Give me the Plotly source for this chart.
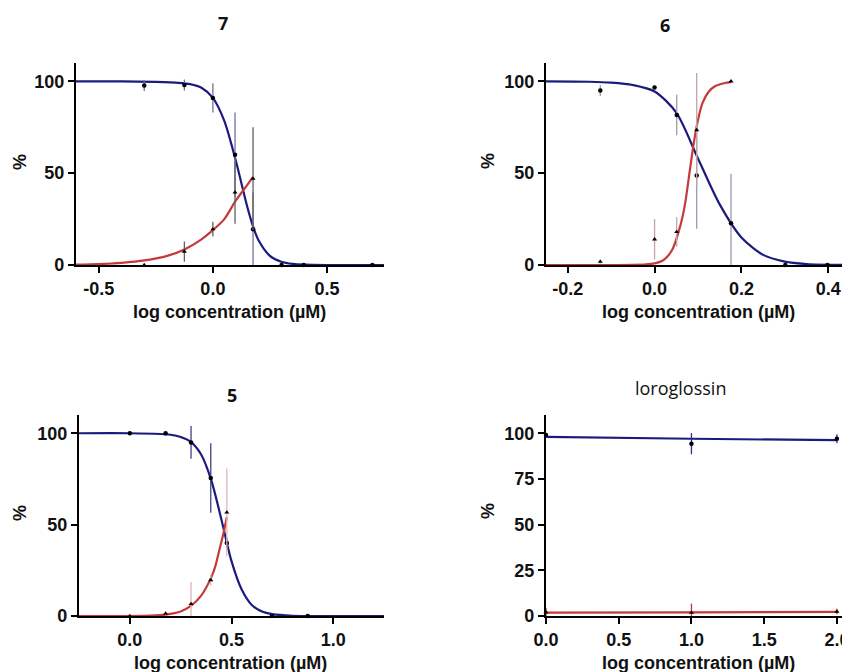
import plotly.graph_objects as go

# ---------------- data ----------------
# Compound 7
c7_x = [-0.301, -0.125, 0.0, 0.097, 0.176, 0.301, 0.398, 0.699]
c7_blue = [97.8, 98.0, 91.0, 60.0, 19.5, 0.0, 0.0, 0.0]
c7_blue_err = [3, 3, 8, 23, 20, 0, 0, 0]
c7_red_x = [-0.301, -0.125, 0.0, 0.097, 0.176]
c7_red = [0.0, 7.3, 19.5, 39.5, 47.0]
c7_red_err = [0, 5.5, 4, 17, 28]
c7_blue_curve_x = [-0.6, -0.4, -0.25, -0.15, -0.1, -0.05, 0.0, 0.05, 0.1, 0.15, 0.176, 0.2, 0.25, 0.3, 0.35, 0.4, 0.5, 0.75]
c7_blue_curve_y = [100, 100, 99.7, 99.2, 98.5, 96.5, 91, 78.5, 57, 32, 21, 13.5, 5, 1.8, 0.6, 0.2, 0, 0]
c7_red_curve_x = [-0.6, -0.5, -0.4, -0.3, -0.2, -0.125, -0.05, 0.0, 0.05, 0.1, 0.15, 0.176]
c7_red_curve_y = [0.2, 0.5, 1.2, 2.5, 5.0, 8.5, 14, 19, 25, 35, 43.5, 48]

# Compound 6
c6_x = [-0.125, 0.0, 0.051, 0.097, 0.176, 0.301, 0.398]
c6_blue = [95.0, 96.7, 81.7, 48.7, 22.7, 0.0, 0.0]
c6_blue_err = [3, 1, 11, 29, 27, 0, 0]
c6_red_x = [-0.125, 0.0, 0.051, 0.097, 0.176]
c6_red = [1.8, 14.0, 18.0, 73.5, 100.0]
c6_red_err = [1, 11, 8, 31, 0.5]
c6_blue_curve_x = [-0.25, -0.15, -0.1, -0.05, 0.0, 0.05, 0.1, 0.15, 0.2, 0.25, 0.3, 0.35, 0.45]
c6_blue_curve_y = [100, 99.8, 99.3, 98, 94.5, 83, 58, 33, 15, 5.5, 1.8, 0.5, 0]
c6_red_curve_x = [-0.25, -0.1, -0.05, -0.02, 0.0, 0.02, 0.04, 0.06, 0.07, 0.08, 0.09, 0.1, 0.11, 0.125, 0.14, 0.16, 0.176]
c6_red_curve_y = [0, 0, 0.05, 0.3, 0.9, 2.6, 8, 22, 33, 49.5, 66, 79, 88, 94.5, 97.5, 99, 99.6]

# Compound 5
c5_x = [0.0, 0.176, 0.301, 0.398, 0.477, 0.699, 0.875]
c5_blue = [100.0, 100.0, 95.0, 75.5, 40.0, 0.0, 0.0]
c5_blue_err = [0.5, 0.5, 9, 19, 3, 0, 0]
c5_red_x = [0.0, 0.176, 0.301, 0.398, 0.477]
c5_red = [0.0, 1.3, 6.6, 19.7, 56.7]
c5_red_err = [0, 1, 12, 3, 24]
c5_blue_curve_x = [-0.25, 0.0, 0.15, 0.2, 0.25, 0.3, 0.35, 0.4, 0.45, 0.5, 0.55, 0.6, 0.65, 0.7, 0.8, 0.95, 1.25]
c5_blue_curve_y = [100, 100, 99.6, 99.2, 98, 95.3, 88.5, 74.5, 53, 30, 14.5, 6, 2.4, 1, 0.15, 0, 0]
c5_red_curve_x = [-0.25, 0.0, 0.1, 0.176, 0.25, 0.3, 0.35, 0.4, 0.42, 0.44, 0.46, 0.477]
c5_red_curve_y = [0, 0, 0.2, 0.8, 2.5, 5.5, 11, 21, 27, 36, 45, 54]

# Loroglossin
lor_x = [0.0, 1.0, 2.0]
lor_blue = [99.0, 94.3, 97.0]
lor_blue_err = [1, 5.8, 2.5]
lor_red = [2.0, 1.8, 2.4]
lor_red_err = [2.5, 5, 1.5]
lor_blue_curve_x = [0.0, 1.0, 2.0]
lor_blue_curve_y = [98.0, 97.0, 96.2]
lor_red_curve_x = [0.0, 1.0, 2.0]
lor_red_curve_y = [1.8, 2.0, 2.3]

titles = ["7", "6", "5", "loroglossin"]
x_tickvals = [[-0.5, 0.0, 0.5], [-0.2, 0.0, 0.2, 0.4], [0.0, 0.5, 1.0], [0.0, 0.5, 1.0, 1.5, 2.0]]
x_ticktext = [["-0.5", "0.0", "0.5"], ["-0.2", "0.0", "0.2", "0.4"], ["0.0", "0.5", "1.0"],
              ["0.0", "0.5", "1.0", "1.5", "2.0"]]
y_tickvals = [[0, 50, 100], [0, 50, 100], [0, 50, 100], [0, 25, 50, 75, 100]]
x_title = "log concentration (µM)"
y_title = "%"

# ---------------- styling / layout ----------------
W, H = 850, 672
OFF = 8  # page body margin: figure starts 8 px right/down of the window corner
BLUE = "#1b1b7e"
RED = "#c43a3a"


def px_x(v):
    return (v - OFF) / W


def px_y(v):
    return 1 - (v - OFF) / H


panels = [
    dict(xpx=(76, 384), ypx=(63, 265), xr=[-0.6, 0.75], title_px=(223, 23), bold=True,
         xt_px=(229, 312), yt_px=(20, 162),
         pts=(c7_x, c7_blue, c7_blue_err, c7_red_x, c7_red, c7_red_err),
         cur=(c7_blue_curve_x, c7_blue_curve_y, c7_red_curve_x, c7_red_curve_y),
         berr="#7070a0", rerr="#606060"),
    dict(xpx=(546, 850), ypx=(63, 265), xr=[-0.25, 0.45], title_px=(665, 25), bold=True,
         xt_px=(698, 312), yt_px=(488, 161),
         pts=(c6_x, c6_blue, c6_blue_err, c6_red_x, c6_red, c6_red_err),
         cur=(c6_blue_curve_x, c6_blue_curve_y, c6_red_curve_x, c6_red_curve_y),
         berr="#9a9aae", rerr="#c0a4ac"),
    dict(xpx=(79, 384), ypx=(415, 616), xr=[-0.25, 1.25], title_px=(232, 395), bold=True,
         xt_px=(230, 663), yt_px=(20, 513),
         pts=(c5_x, c5_blue, c5_blue_err, c5_red_x, c5_red, c5_red_err),
         cur=(c5_blue_curve_x, c5_blue_curve_y, c5_red_curve_x, c5_red_curve_y),
         berr="#40408a", rerr="#e6b4b4"),
    dict(xpx=(546, 850), ypx=(415, 616), xr=[0.0, 2.09], title_px=(680, 388), bold=False,
         xt_px=(698, 663), yt_px=(488, 511),
         pts=(lor_x, lor_blue, lor_blue_err, lor_x, lor_red, lor_red_err),
         cur=(lor_blue_curve_x, lor_blue_curve_y, lor_red_curve_x, lor_red_curve_y),
         berr="#2a2aa8", rerr="#c83030"),
]

fig = go.Figure()
layout = dict(width=W, height=H, margin=dict(l=0, r=0, t=0, b=0, autoexpand=False),
              paper_bgcolor="white", plot_bgcolor="white", showlegend=False,
              font=dict(family="Liberation Sans, Arial", color="#111111"))
annotations = []
tickfont = dict(family="Liberation Sans, Arial", size=18, color="#111111", weight="bold")
titlefont = dict(family="Liberation Sans, Arial", size=18, color="#111111", weight="bold")

for i, p in enumerate(panels):
    n = "" if i == 0 else str(i + 1)
    xa, ya = "x" + n, "y" + n
    bx, by, be, rx, ry, re = p["pts"]
    cbx, cby, crx, cry = p["cur"]
    fig.add_trace(go.Scatter(x=cbx, y=cby, mode="lines", line=dict(color=BLUE, width=2.2, shape="spline", smoothing=0.8),
                             xaxis=xa, yaxis=ya, hoverinfo="skip"))
    fig.add_trace(go.Scatter(x=crx, y=cry, mode="lines", line=dict(color=RED, width=2.2, shape="spline", smoothing=0.8),
                             xaxis=xa, yaxis=ya, hoverinfo="skip"))
    fig.add_trace(go.Scatter(x=bx, y=by, mode="markers", cliponaxis=False,
                             marker=dict(symbol="circle", size=4.5, color="black"),
                             error_y=dict(type="data", array=be, visible=True, color=p["berr"], thickness=1.3, width=0),
                             xaxis=xa, yaxis=ya))
    fig.add_trace(go.Scatter(x=rx, y=ry, mode="markers", cliponaxis=False,
                             marker=dict(symbol="triangle-up", size=4.5, color="black"),
                             error_y=dict(type="data", array=re, visible=True, color=p["rerr"], thickness=1.3, width=0),
                             xaxis=xa, yaxis=ya))
    x0, x1 = p["xpx"]
    yt, yb = p["ypx"]
    layout["xaxis" + n] = dict(domain=[px_x(x0), px_x(x1)], range=p["xr"], anchor=ya, automargin=False,
                               showgrid=False, zeroline=False, showline=True, linecolor="black", linewidth=2.2,
                               ticks="outside", ticklen=6, tickwidth=2, tickcolor="black",
                               tickvals=x_tickvals[i], ticktext=x_ticktext[i], tickfont=tickfont)
    layout["yaxis" + n] = dict(domain=[px_y(yb), px_y(yt)], range=[0, 110], anchor=xa, automargin=False,
                               showgrid=False, zeroline=False, showline=True, linecolor="black", linewidth=2.2,
                               ticks="outside", ticklen=6, tickwidth=2, tickcolor="black",
                               tickvals=y_tickvals[i], tickfont=tickfont)
    tx, ty = p["title_px"]
    annotations.append(dict(text=titles[i], x=px_x(tx), y=px_y(ty), xref="paper", yref="paper",
                            showarrow=False, xanchor="center", yanchor="middle",
                            font=dict(family="Open Sans", size=18, color="#111111",
                                      weight="bold" if p["bold"] else "normal")))
    ax_, ay_ = p["xt_px"]
    annotations.append(dict(text=x_title, x=px_x(ax_), y=px_y(ay_), xref="paper", yref="paper",
                            showarrow=False, xanchor="center", yanchor="middle", font=titlefont))
    yx_, yy_ = p["yt_px"]
    annotations.append(dict(text=y_title, x=px_x(yx_), y=px_y(yy_), xref="paper", yref="paper",
                            showarrow=False, xanchor="center", yanchor="middle", textangle=-90, font=titlefont))

layout["annotations"] = annotations
fig.update_layout(**layout)
fig.write_html("out.html")
